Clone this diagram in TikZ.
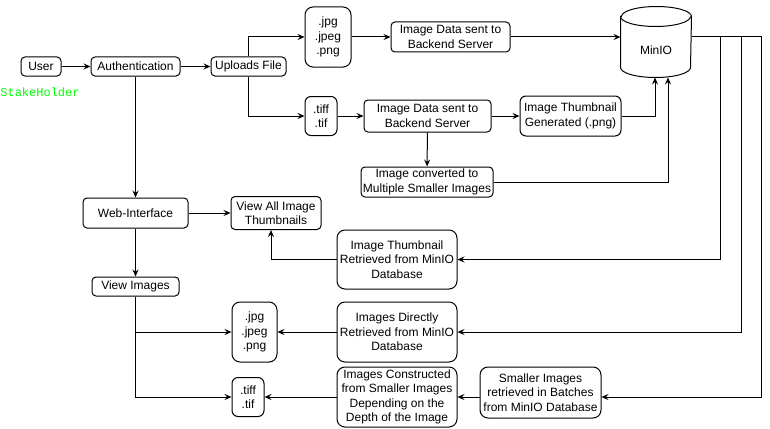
\documentclass[tikz,border=0pt]{standalone}
\usepackage{fontspec}
\setmainfont{Liberation Sans}
\newfontfamily\holderfont{Liberation Mono}
\usepackage{tikz}
\usetikzlibrary{arrows.meta,shapes,positioning}
\definecolor{holdergreen}{RGB}{0,255,0}

\begin{document}
\begin{tikzpicture}[->,>={Stealth[length=7pt,width=6pt,inset=2.5pt]},x=1pt,y=-1pt,line width=1pt,
font=\fontsize{12}{14.4}\selectfont]
\tikzstyle{box}=[draw=black,fill=white,rounded corners=4pt,align=center,inner sep=0pt]
\tikzstyle{tall}=[box,rounded corners=8pt]

\path[use as bounding box,fill=white] (0,0) rectangle (770,428);

% upload side
\node[box,minimum width=40pt,minimum height=19pt]  (user)    at (41,66.5)   {User};
\node[text=holdergreen,font=\holderfont\fontsize{12}{14}\selectfont]
                                                    (holder)  at (40,92)     {StakeHolder};
\node[box,minimum width=89pt,minimum height=19pt]  (auth)    at (135.5,66.5) {Authentication};
\node[box,minimum width=75pt,minimum height=19pt]  (upload)  at (248.5,66.5) {Uploads File};
\node[tall,minimum width=46pt,minimum height=60pt] (jpgA)    at (328,37)    {.jpg\\.jpeg\\.png};
\node[tall,rounded corners=6pt,minimum width=32pt,minimum height=39pt]
                                                    (tiffA)   at (321,116)   {.tiff\\.tif};
\node[box,minimum width=119pt,minimum height=30pt] (dataA)   at (450.5,37)  {Image Data sent to\\Backend Server};
\node[box,minimum width=127pt,minimum height=32pt] (dataB)   at (427.5,116) {Image Data sent to\\Backend Server};
\node[box,rounded corners=6pt,minimum width=101pt,minimum height=40pt]
                                                    (thumb)   at (570.5,116) {Image Thumbnail\\Generated (.png)};
\node[box,minimum width=132pt,minimum height=30pt] (conv)    at (427,182)   {Image converted to\\Multiple Smaller Images};

% database
\node[minimum width=70pt,minimum height=70pt,inner sep=0pt] (minio) at (656,42) {};
\draw[-,fill=white] ([yshift=-10pt]minio.north west) -- ([yshift=10pt]minio.south west)
  arc[start angle=180,end angle=360,x radius=35pt,y radius=10pt]
  -- ([yshift=-10pt]minio.north east)
  arc[start angle=0,end angle=180,x radius=35pt,y radius=10pt] -- cycle;
\draw[-] ([yshift=-10pt]minio.north west) arc[start angle=180,end angle=360,x radius=35pt,y radius=10pt];
\node (miniotext) at ([yshift=-8pt]minio.center) {MinIO};

% viewing side
\node[box,minimum width=105pt,minimum height=30pt] (web)      at (135.5,213) {Web-Interface};
\node[box,minimum width=90pt,minimum height=33pt]  (viewall)  at (276,213)   {View All Image\\Thumbnails};
\node[box,minimum width=87pt,minimum height=19pt]  (viewimg)  at (135.5,286.5) {View Images};
\node[tall,minimum width=120pt,minimum height=59pt] (thumbret) at (397,259.5) {Image Thumbnail\\Retrieved from MinIO\\Database};
\node[tall,minimum width=45pt,minimum height=60pt]  (jpgB)     at (254.5,332) {.jpg\\.jpeg\\.png};
\node[tall,minimum width=120pt,minimum height=60pt] (direct)   at (397,332)   {Images Directly\\Retrieved from MinIO\\Database};
\node[tall,rounded corners=6pt,minimum width=32pt,minimum height=39pt]
                                                     (tiffB)    at (248,397)   {.tiff\\.tif};
\node[tall,minimum width=120pt,minimum height=60pt] (constr)   at (397,397)   {Images Constructed\\from Smaller Images\\Depending on the\\Depth of the Image};
\node[tall,minimum width=121pt,minimum height=51pt] (batch)    at (540.5,392.5) {Smaller Images\\retrieved in Batches\\from MinIO Database};

\coordinate (busA) at ([xshift=29pt]dataA -| minio.east);
\coordinate (busB) at ([xshift=50pt]dataA -| minio.east);
\coordinate (busC) at ([xshift=70pt]dataA -| minio.east);

\path
(user)   edge (auth)
(auth)   edge (upload)
(auth)   edge (web)
(web)    edge (viewall)
(web)    edge (viewimg)
(jpgA)   edge (dataA)
(tiffA)  edge (dataB)
(dataB)  edge (thumb)
(dataB)  edge (conv)
(direct) edge (jpgB)
(constr) edge (tiffB);

\draw (upload.north) |- (jpgA);
\draw (upload.south) |- (tiffA);
\draw (dataA) -- (dataA -| minio.west);
\draw (thumb) -| ([xshift=-1pt]minio.south);
\draw (conv) -| ([xshift=12pt]minio.south);

\draw (dataA -| minio.east) -- (busA) |- (thumbret);
\draw (dataA -| minio.east) -- (busB) |- (direct);
\draw (dataA -| minio.east) -- (busC) |- (batch.east |- constr);
\draw (batch.west |- constr) -- (constr);
\draw (thumbret) -| ([xshift=-5pt]viewall.south);

\draw (viewimg) |- (jpgB);
\draw (viewimg) |- (tiffB);
\end{tikzpicture}
\end{document}
